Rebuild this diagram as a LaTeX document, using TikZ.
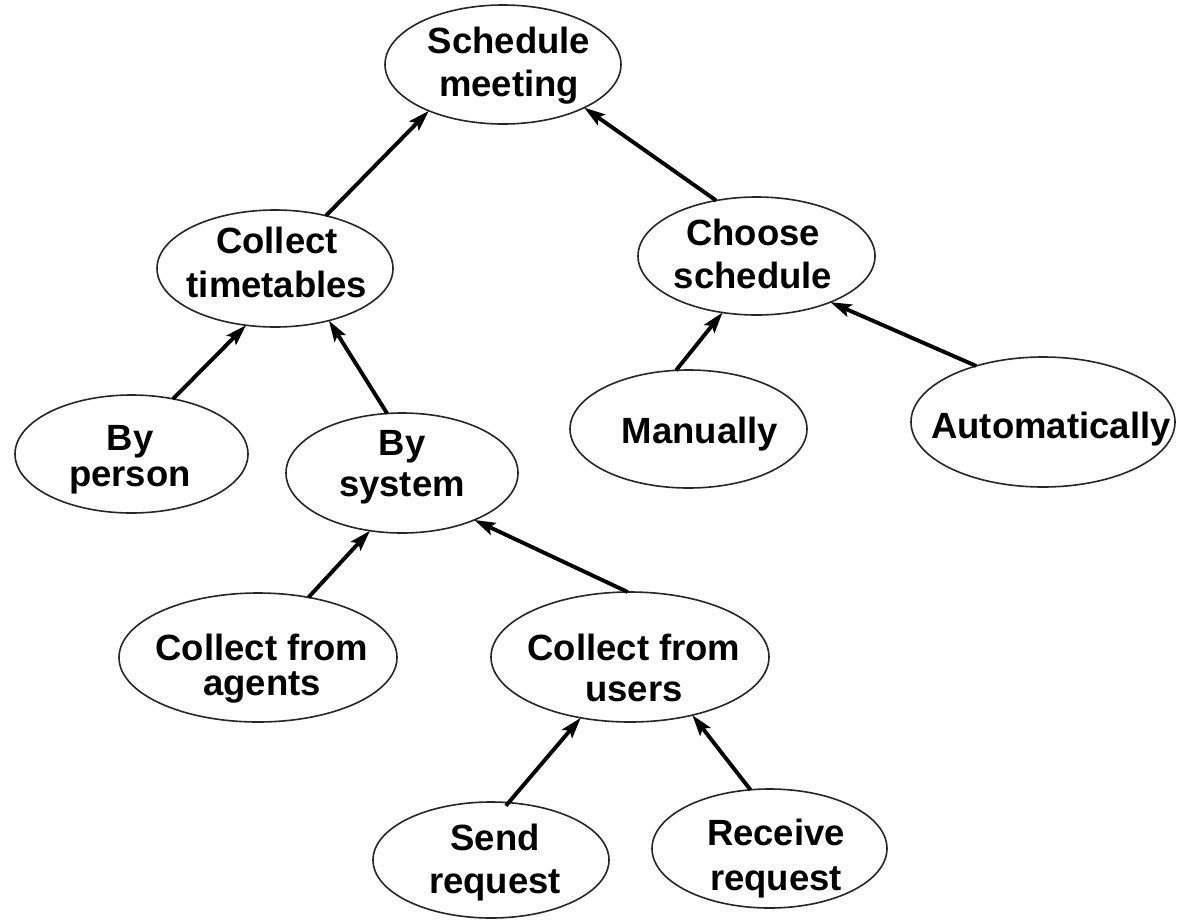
\documentclass[tikz,border=0pt]{standalone}
\usepackage{fontspec}
\setmainfont{Liberation Sans}
\usetikzlibrary{arrows.meta,shapes.geometric}

\tikzset{
  ell/.style={ellipse, draw=black!85, line width=1.6pt, inner sep=0pt, outer sep=0pt},
  lbl/.style={anchor=base, inner sep=0pt, font=\bfseries\fontsize{36.5}{42}\selectfont},
  link/.style={line width=3.9pt, -{Stealth[length=21pt,width=13pt,inset=4pt]}},
}
\newcommand{\twoline}[2]{\begin{tabular}[t]{@{}c@{}}#1\\#2\end{tabular}}

\begin{document}
\begin{tikzpicture}[x=1pt,y=-1pt]
\useasboundingbox[fill=white] (0,0) rectangle (1178,919);

% goal ellipses
\node[ell, minimum width=236pt, minimum height=119pt] (sm) at (503,64.5) {};
\node[ell, minimum width=236pt, minimum height=117pt] (ct) at (275,268.5) {};
\node[ell, minimum width=237pt, minimum height=118pt] (cs) at (756.5,256) {};
\node[ell, minimum width=233pt, minimum height=118pt] (bp) at (131.5,454) {};
\node[ell, minimum width=232pt, minimum height=120pt] (bs) at (402,473) {};
\node[ell, minimum width=237pt, minimum height=118pt] (ma) at (688.5,429) {};
\node[ell, minimum width=264pt, minimum height=130pt] (au) at (1043,422) {};
\node[ell, minimum width=278pt, minimum height=129pt] (ca) at (258,657.5) {};
\node[ell, minimum width=278pt, minimum height=130pt] (cu) at (630,657) {};
\node[ell, minimum width=236pt, minimum height=116pt] (sr) at (491,860) {};
\node[ell, minimum width=235pt, minimum height=119pt] (rr) at (769.5,848.5) {};

% labels
\node[lbl, font=\bfseries\fontsize{36.5}{43}\selectfont] (sm-t) at (509,53) {\twoline{Schedule}{meeting}};
\node[lbl, font=\bfseries\fontsize{36.5}{44}\selectfont] (ct-t) at (277,253) {\twoline{Collect}{timetables}};
\node[lbl, font=\bfseries\fontsize{36.5}{43}\selectfont] (cs-t) at (753,245) {\twoline{Choose}{schedule}};
\node[lbl, font=\bfseries\fontsize{36.5}{36}\selectfont] (bp-t) at (130,450.7) {\twoline{By}{person}};
\node[lbl, font=\bfseries\fontsize{36.5}{41.7}\selectfont] (bs-t) at (402,455) {\twoline{By}{system}};
\node[lbl] (ma-t) at (700,443) {Manually};
\node[lbl] (au-t) at (1051,438) {Automatically};
\node[lbl, font=\bfseries\fontsize{36.5}{35}\selectfont] (ca-t) at (262,660) {\twoline{Collect from}{agents}};
\node[lbl, font=\bfseries\fontsize{36.5}{41.7}\selectfont] (cu-t) at (634,660) {\twoline{Collect from}{users}};
\node[lbl, font=\bfseries\fontsize{36.5}{43}\selectfont] (sr-t) at (495,850) {\twoline{Send}{request}};
\node[lbl, font=\bfseries\fontsize{36.5}{45}\selectfont] (rr-t) at (776,845) {\twoline{Receive}{request}};

% refinement links, child to parent
\draw[link] (ct.46.9) -- (sm.212.9);
\draw[link] (cs.126.4) -- (sm.332.9);
\draw[link] (bp.53.1) -- (ct.243.6);
\draw[link] (bs.104) -- (ct.316.3);
\draw[link] (ma.102.9) -- (cs.239.7);
\draw[link] (au.140.7) -- (cs.328.4);
\draw[link] (ca.50.5) -- (bs.241.4);
\draw[link] (cu.92.6) -- (bs.327.9);
\draw[link, shorten <=-4pt] (sr.73.2) -- (cu.231.8);
\draw[link] (rr.108.4) -- (cu.317.7);
\end{tikzpicture}
\end{document}
